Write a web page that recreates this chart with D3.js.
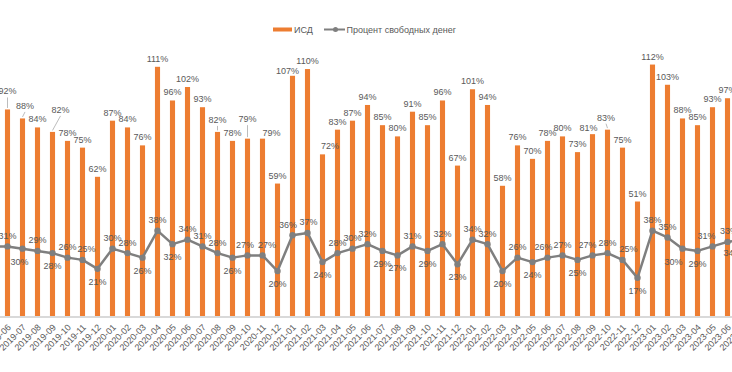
<!DOCTYPE html>
<html>
<head>
<meta charset="utf-8">
<script src="https://cdn.jsdelivr.net/npm/d3@7"></script>
<style>
	body { margin: 0; background: #fff; }
	svg { display: block; font-family: "Liberation Sans", Arial, sans-serif; }
</style>
</head>
<body>
<svg id="chart" width="732" height="372"></svg>
<script>
(function(){

	// months on the axis (first and last one sit just outside the visible area)
	const months = [
		"2019-05", "2019-06", "2019-07", "2019-08", "2019-09", "2019-10", "2019-11", "2019-12",
		"2020-01", "2020-02", "2020-03", "2020-04", "2020-05", "2020-06", "2020-07", "2020-08", "2020-09", "2020-10", "2020-11", "2020-12",
		"2021-01", "2021-02", "2021-03", "2021-04", "2021-05", "2021-06", "2021-07", "2021-08", "2021-09", "2021-10", "2021-11", "2021-12",
		"2022-01", "2022-02", "2022-03", "2022-04", "2022-05", "2022-06", "2022-07", "2022-08", "2022-09", "2022-10", "2022-11", "2022-12",
		"2023-01", "2023-02", "2023-03", "2023-04", "2023-05", "2023-06", "2023-07"
	];

	// ИСД, %
	const isd = [
		null, 92, 88, 84, 82, 78, 75, 62,
		87, 84, 76, 111, 96, 102, 93, 82, 78, 79, 79, 59,
		107, 110, 72, 83, 87, 94, 85, 80, 91, 85, 96, 67,
		101, 94, 58, 76, 70, 78, 80, 73, 81, 83, 75, 51,
		112, 103, 88, 85, 93, 97, null
	];

	// Процент свободных денег, %
	const freeMoney = [
		31, 31, 30, 29, 28, 26, 25, 21,
		30, 28, 26, 38, 32, 34, 31, 28, 26, 27, 27, 20,
		36, 37, 24, 28, 30, 32, 29, 27, 31, 29, 32, 23,
		34, 32, 20, 26, 24, 26, 27, 25, 27, 28, 25, 17,
		38, 35, 30, 29, 31, 33, 34
	];

	const seriesNames = ["ИСД", "Процент свободных денег"];

	// where each line label sits: a = above the point, b = below, - = none
	const lineLabelSide = (
		"-" + "ababaab" +
		"aababaaabaab" +
		"aabaaabbabab" +
		"aababaabaaab" +
		"aabbaab"
	).split("");

	// hand-moved labels: [dx, lift]; lifted bar labels get a leader line
	const barLabelNudge = {
		"2019-06": [0, 10], "2019-07": [2.5, 4.5], "2019-09": [8, 14],
		"2020-08": [0, 4], "2020-10": [0, 11.5], "2020-11": [9, -2],
		"2021-01": [-5, -3], "2021-03": [7.5, 0], "2022-09": [-4, -1.5], "2022-10": [-1.5, 4]
	};
	const lineLabelNudge = {
		"2019-07": [-3, 0], "2019-11": [4, 0], "2020-10": [-2.5, 0], "2020-11": [4.5, 0],
		"2021-01": [-4.5, 0], "2021-02": [1, 0], "2022-06": [-4, 0], "2022-09": [-5, 0],
		"2022-11": [6, 0], "2023-03": [-9, 0], "2023-05": [-6, 0], "2023-06": [1.5, 0],
		"2023-07": [-10, 0]
	};

	const orange = "#ed7d31";
	const gray = "#7f7f7f";
	const textColor = "#595959";

	const svg = d3.select("#chart");

	// 15px per month, 2019-06 centred at x = 7.5
	const x = d3.scaleBand()
		.domain(months)
		.range([-15, 750])
		.paddingInner(0.66)
		.paddingOuter(0.33);

	const y = d3.scaleLinear()
		.domain([0, 120])
		.range([316, 316 - 120 * 2.245]);

	const cx = function(m) { return x(m) + x.bandwidth() / 2; };

	const rows = months.map(function(m, i) {
		return { month: m, isd: isd[i], free: freeMoney[i], side: lineLabelSide[i] };
	});
	const barRows = rows.filter(function(d) { return d.isd != null; });

	// bars
	svg.append("g").selectAll("rect")
		.data(barRows)
		.enter().append("rect")
		.attr("x", function(d) { return x(d.month); })
		.attr("width", x.bandwidth())
		.attr("y", function(d) { return y(d.isd); })
		.attr("height", function(d) { return y(0) - y(d.isd); })
		.attr("fill", orange);

	// x axis
	const xAxis = svg.append("g")
		.attr("transform", "translate(0," + y(0) + ")")
		.call(d3.axisBottom(x).tickSize(0).tickPadding(0));
	xAxis.select(".domain").attr("stroke", "#d9d9d9").attr("stroke-width", 2).attr("d", "M-20,1H760");
	xAxis.selectAll("text")
		.attr("font-size", "9px")
		.attr("fill", textColor)
		.attr("text-anchor", "end")
		.attr("dy", "0")
		.attr("y", 0)
		.attr("transform", "translate(4,12) rotate(-45)");

	// bar labels
	const barLabels = svg.append("g");
	barRows.forEach(function(d) {
		const nudge = barLabelNudge[d.month] || [0, 0];
		const lx = cx(d.month) + nudge[0];
		const ly = y(d.isd) - 5 - nudge[1];
		if (nudge[1] >= 4) {
			barLabels.append("line")
				.attr("x1", cx(d.month)).attr("y1", y(d.isd) - 1.5)
				.attr("x2", lx).attr("y2", ly + 3)
				.attr("stroke", "#a6a6a6").attr("stroke-width", 0.75);
		}
		barLabels.append("text")
			.attr("x", lx).attr("y", ly)
			.attr("text-anchor", "middle")
			.attr("font-size", "9px")
			.attr("fill", textColor)
			.text(d.isd + "%");
	});

	// line
	const line = d3.line()
		.x(function(d) { return cx(d.month); })
		.y(function(d) { return y(d.free); });

	svg.append("path")
		.datum(rows)
		.attr("d", line)
		.attr("fill", "none")
		.attr("stroke", gray)
		.attr("stroke-width", 2.5)
		.attr("stroke-linejoin", "round");

	svg.append("g").selectAll("circle")
		.data(rows)
		.enter().append("circle")
		.attr("cx", function(d) { return cx(d.month); })
		.attr("cy", function(d) { return y(d.free); })
		.attr("r", 3.2)
		.attr("fill", gray);

	svg.append("g").selectAll("text")
		.data(rows.filter(function(d) { return d.side != "-"; }))
		.enter().append("text")
		.attr("x", function(d) { return cx(d.month) + (lineLabelNudge[d.month] || [0, 0])[0]; })
		.attr("y", function(d) { return y(d.free) + (d.side == "a" ? -7.5 : 16); })
		.attr("text-anchor", "middle")
		.attr("font-size", "9px")
		.attr("fill", textColor)
		.text(function(d) { return d.free + "%"; });

	// legend
	const legend = svg.append("g").attr("font-size", "9px").attr("fill", textColor);
	legend.append("rect")
		.attr("x", 273).attr("y", 27.5).attr("width", 19).attr("height", 4)
		.attr("fill", orange);
	legend.append("text").attr("x", 294).attr("y", 32.5).text(seriesNames[0]);
	legend.append("line")
		.attr("x1", 324).attr("x2", 345).attr("y1", 29.5).attr("y2", 29.5)
		.attr("stroke", gray).attr("stroke-width", 2);
	legend.append("circle").attr("cx", 335.5).attr("cy", 29.5).attr("r", 2.5).attr("fill", gray);
	legend.append("text").attr("x", 346.5).attr("y", 32.5).text(seriesNames[1]);

}());
</script>
</body>
</html>
